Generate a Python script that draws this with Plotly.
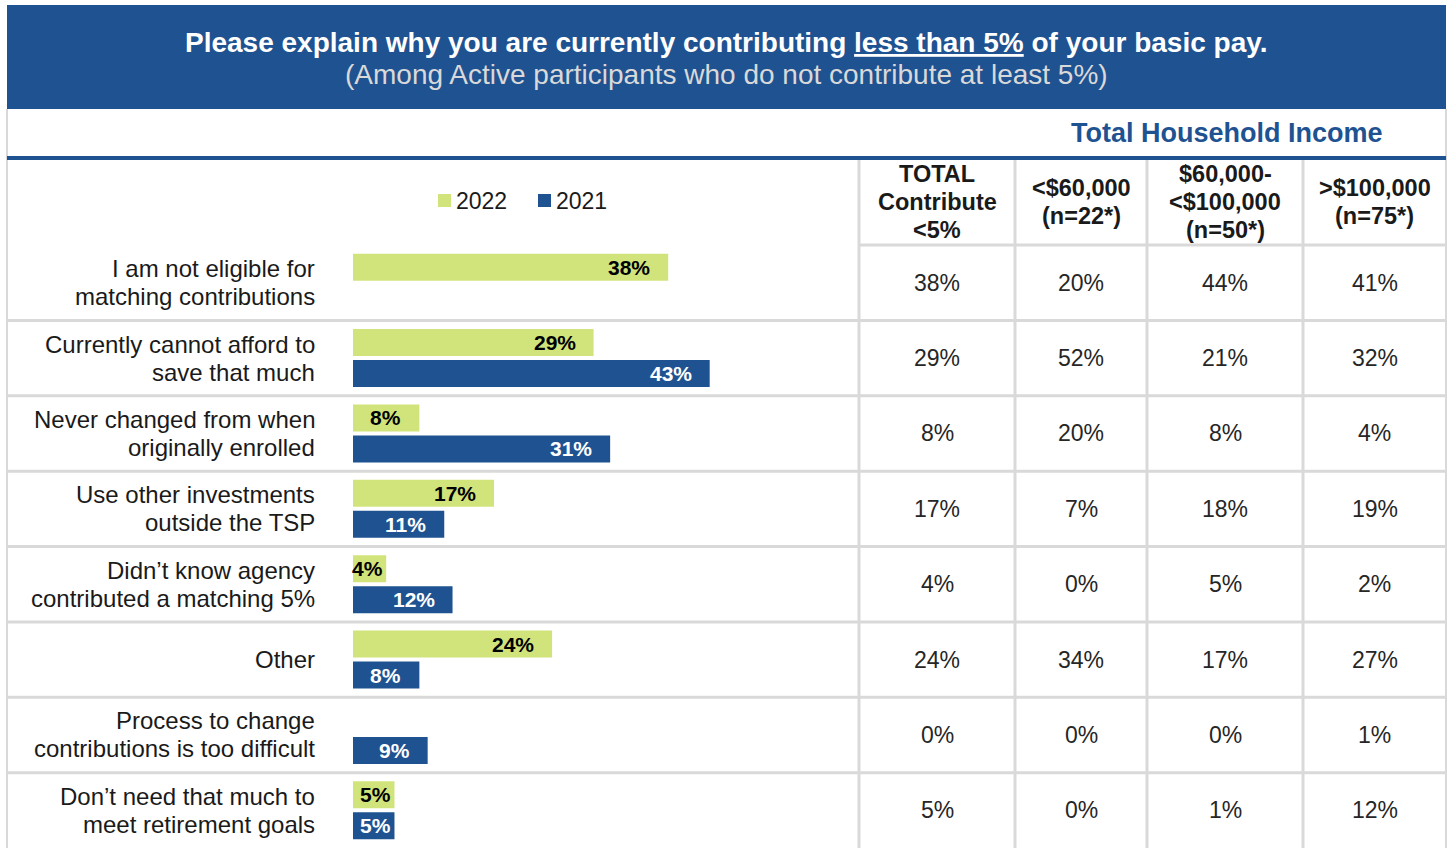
import plotly.graph_objects as go

W, H = 1448, 848

# ---------------- data ----------------
reasons = [
    "I am not eligible for<br>matching contributions",
    "Currently cannot afford to<br>save that much",
    "Never changed from when<br>originally enrolled",
    "Use other investments<br>outside the TSP",
    "Didn’t know agency<br>contributed a matching 5%",
    "Other",
    "Process to change<br>contributions is too difficult",
    "Don’t need that much to<br>meet retirement goals",
]
series_names = ["2022", "2021"]
v2022 = [38, 29, 8, 17, 4, 24, None, 5]
v2021 = [None, 43, 31, 11, 12, 8, 9, 5]

col_headers = [
    "TOTAL<br>Contribute<br><5%",
    "<$60,000<br>(n=22*)",
    "$60,000-<br><$100,000<br>(n=50*)",
    ">$100,000<br>(n=75*)",
]
tbl_total = [38, 29, 8, 17, 4, 24, 0, 5]
tbl_lt60 = [20, 52, 20, 7, 0, 34, 0, 0]
tbl_60_100 = [44, 21, 8, 18, 5, 17, 0, 1]
tbl_gt100 = [41, 32, 4, 19, 2, 27, 1, 12]

title = "Please explain why you are currently contributing <u>less than 5%</u> of your basic pay."
subtitle = "(Among Active participants who do not contribute at least 5%)"
group_title = "Total Household Income"

# ---------------- style ----------------
GREEN = "#D0E47B"
BLUE = "#1F5291"
GRID = "#D9D9D9"
TXT = "#1A1A1A"
FONT = "Arial, Liberation Sans, sans-serif"

def px(x):
    return x / W

def py(y):
    return 1 - y / H

row_top = 245
col_lines = [859, 1015, 1147, 1303]
col_centers = [(859 + 1015) / 2, (1015 + 1147) / 2, (1147 + 1303) / 2, (1303 + 1446) / 2]

fig = go.Figure()
fig.add_bar(y=reasons, x=v2022, orientation="h", name=series_names[0],
            marker=dict(color=GREEN, line=dict(width=0)), hoverinfo="x+y")
fig.add_bar(y=reasons, x=v2021, orientation="h", name=series_names[1],
            marker=dict(color=BLUE, line=dict(width=0)), hoverinfo="x+y")

annotations = []
shapes = []

def multiline(text, x, y, xref, yref, spacing, size, bold=False, color=TXT,
              xanchor="center", base_shift=0):
    lines = text.split("<br>")
    n = len(lines)
    for j, line in enumerate(lines):
        t = f"<b>{line}</b>" if bold else line
        annotations.append(dict(
            text=t, x=x, y=y, xref=xref, yref=yref, showarrow=False,
            xanchor=xanchor, yanchor="middle",
            yshift=base_shift + ((n - 1) / 2 - j) * spacing,
            font=dict(family=FONT, size=size, color=color)))

# banner
shapes.append(dict(type="rect", xref="paper", yref="paper",
                   x0=px(7), x1=px(1446), y0=py(109), y1=py(5),
                   fillcolor=BLUE, line=dict(width=0), layer="below"))
annotations.append(dict(text=f"<b>{title}</b>", x=px(726.5), y=py(42), xref="paper", yref="paper",
                        showarrow=False, xanchor="center", yanchor="middle",
                        font=dict(family=FONT, size=28, color="white")))
annotations.append(dict(text=subtitle, x=px(726.5), y=py(74), xref="paper", yref="paper",
                        showarrow=False, xanchor="center", yanchor="middle",
                        font=dict(family=FONT, size=28, color="#D9D9D9")))
annotations.append(dict(text=f"<b>{group_title}</b>", x=px(1385), y=py(133), xref="paper", yref="paper",
                        showarrow=False, xanchor="right", yanchor="middle",
                        font=dict(family=FONT, size=27, color=BLUE)))

# frame borders
for xx in (7, 1446):
    shapes.append(dict(type="line", xref="paper", yref="paper",
                       x0=px(xx), x1=px(xx), y0=py(109), y1=0,
                       line=dict(color=GRID, width=2)))
# blue rule
shapes.append(dict(type="line", xref="paper", yref="paper",
                   x0=px(7), x1=px(1446), y0=py(158), y1=py(158),
                   line=dict(color=BLUE, width=4)))
# header bottom line (table area only)
shapes.append(dict(type="line", xref="paper", yref="paper",
                   x0=px(859), x1=px(1446), y0=py(row_top), y1=py(row_top),
                   line=dict(color=GRID, width=3)))
# column lines
for xx in col_lines:
    shapes.append(dict(type="line", xref="paper", yref="paper",
                       x0=px(xx), x1=px(xx), y0=py(160), y1=0,
                       line=dict(color=GRID, width=3)))
# row separator lines (between categories)
for k in range(1, len(reasons)):
    shapes.append(dict(type="line", xref="paper", yref="y",
                       x0=px(7), x1=px(1446), y0=k - 0.5, y1=k - 0.5,
                       line=dict(color=GRID, width=3), layer="below"))

# legend (custom)
leg = [(438, GREEN, series_names[0]), (538, BLUE, series_names[1])]
for lx, c, name in leg:
    shapes.append(dict(type="rect", xref="paper", yref="paper",
                       x0=px(lx), x1=px(lx + 13), y0=py(207), y1=py(194),
                       fillcolor=c, line=dict(width=0)))
    annotations.append(dict(text=name, x=px(lx + 16), y=py(201), xref="paper", yref="paper",
                            showarrow=False, xanchor="left", yanchor="middle",
                            font=dict(family=FONT, size=23, color=TXT)))

# column headers
for cx, h in zip(col_centers, col_headers):
    multiline(h, px(cx), py(202), "paper", "paper", 28, 23.5, bold=True)

# left category labels
for r in reasons:
    multiline(r, px(317), r, "paper", "y", 28, 24, xanchor="right")

# table values
for cx, vals in zip(col_centers, [tbl_total, tbl_lt60, tbl_60_100, tbl_gt100]):
    for r, v in zip(reasons, vals):
        annotations.append(dict(text=f"{v}%", x=px(cx), y=r, xref="paper", yref="y",
                                showarrow=False, xanchor="center", yanchor="middle",
                                font=dict(family=FONT, size=23, color="#262626")))

# bar value labels
for vals, shift, col in [(v2022, 15.5, "black"), (v2021, -15.5, "white")]:
    for r, v in zip(reasons, vals):
        if v is None:
            continue
        annotations.append(dict(text=f"<b>{v}%</b>", x=v, y=r, xref="x", yref="y",
                                showarrow=False, xanchor="right", yanchor="middle",
                                xshift=-16 if v >= 8 else -1, yshift=shift,
                                font=dict(family=FONT, size=21, color=col)))

fig.update_layout(
    width=W, height=H,
    margin=dict(l=0, r=0, t=0, b=0),
    paper_bgcolor="white", plot_bgcolor="rgba(0,0,0,0)",
    barmode="group", bargap=0.178, bargroupgap=0.13,
    showlegend=False,
    xaxis=dict(domain=[px(353), px(859)], range=[0, 61], visible=False, fixedrange=True),
    yaxis=dict(domain=[0, py(row_top)], autorange="reversed", visible=False,
               type="category", fixedrange=True),
    shapes=shapes,
    annotations=annotations,
    font=dict(family=FONT),
)

fig.write_html("out.html", config={"displayModeBar": False},
               post_script="document.body.style.margin='0px';document.body.style.overflow='hidden';")
